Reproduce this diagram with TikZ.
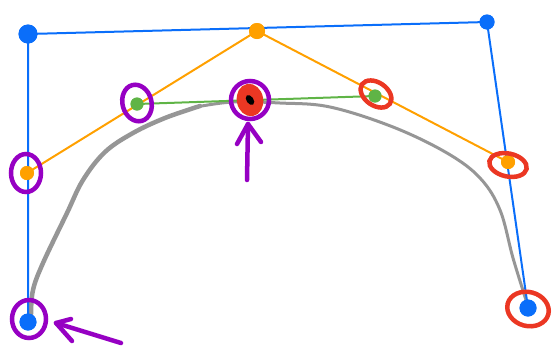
\documentclass[tikz,border=0pt]{standalone}
\usetikzlibrary{shapes.geometric}
\definecolor{cblue}{RGB}{10,110,250}
\definecolor{corange}{RGB}{255,160,0}
\definecolor{cgreen}{RGB}{95,180,70}
\definecolor{cpurple}{RGB}{150,0,195}
\definecolor{cred}{RGB}{235,55,35}
\definecolor{cgray}{RGB}{150,150,150}
\begin{document}
\begin{tikzpicture}[x=1pt,y=-1pt,
  dot/.style={circle,inner sep=0pt,minimum size=#1},
  bdot/.style={dot=17pt,fill=cblue},
  odot/.style={dot=14pt,fill=corange},
  gdot/.style={dot=13pt,fill=cgreen},
  ring/.style={ellipse,draw,inner sep=0pt,line width=4.5pt},
  pring/.style={ring,draw=cpurple},
  rring/.style={ring,draw=cred},
  bline/.style={cblue,line width=2pt},
  oline/.style={corange,line width=2pt},
  gline/.style={cgreen,line width=2pt},
  parrow/.style={cpurple,line width=4.5pt,line cap=round,line join=round}]
\useasboundingbox (0,0) rectangle (556,354);
% gray curve
\draw[cgray,line width=4.5pt,line cap=round] plot[smooth,tension=0.6] coordinates
  {(31,314) (33,290) (43,263) (67,213) (83,180) (105,152) (133,133) (165,118) (200,106)};
\draw[cgray,line width=3pt,line cap=round] plot[smooth,tension=0.6] coordinates
  {(196,107) (233,102) (280,103) (330,107) (393,127) (447,153) (480,178) (500,210) (513,258) (526,300)};
% points
\node[bdot] (p0) at (28,322) {};
\node[bdot,minimum width=19pt,minimum height=16pt] (p1) at (28,34) {};
\node[bdot,minimum width=15pt,minimum height=14pt] (p2) at (487,22) {};
\node[bdot] (p3) at (528,308) {};
\node[odot] (q0) at (27,173) {};
\node[odot,minimum width=16pt,minimum height=12pt] (q1) at (257,31) {};
\node[odot] (q2) at (508,162) {};
\node[gdot] (r0) at (137,104) {};
\node[gdot] (r1) at (375,96) {};
% lines
\draw[bline] (p0.center) -- (p1.center) -- (p2.center) -- (p3.center);
\draw[oline] (q0.center) -- (q1.center) -- (q2.center);
\draw[gline] (r0.center) -- (r1.center);
\node[bdot] at (p0) {};
\node[bdot,minimum width=19pt,minimum height=16pt] at (p1) {};
\node[bdot,minimum width=15pt,minimum height=14pt] at (p2) {};
\node[bdot] at (p3) {};
\node[odot] at (q0) {};
\node[odot,minimum width=16pt,minimum height=12pt] at (q1) {};
\node[odot] at (q2) {};
\node[gdot] at (r0) {};
\node[gdot] at (r1) {};
% black point
\node[rring,minimum width=22pt,minimum height=28pt,rotate=10,fill=cred] (s) at (250,100) {};
\node[ellipse,fill=black,minimum width=7pt,minimum height=11pt,inner sep=0pt,rotate=35] (sb) at (250,100) {};
% rings
\node[pring,minimum width=30pt,minimum height=38pt] (c0) at (26,173) {};
\node[pring,minimum width=29pt,minimum height=37pt,rotate=15] (c1) at (137,103) {};
\node[pring,minimum width=38pt,minimum height=38pt] (c2) at (250,100) {};
\node[pring,minimum width=34pt,minimum height=38pt] (c3) at (29,319) {};
\node[rring,minimum width=34pt,minimum height=23pt,rotate=-35] (d1) at (376,94) {};
\node[rring,minimum width=38pt,minimum height=23pt,rotate=-12] (d2) at (508,165) {};
\node[rring,minimum width=42pt,minimum height=34pt,rotate=-15] (d3) at (528,309) {};
% arrows
\coordinate (a1t) at (247,180);
\coordinate (a1h) at (248,124);
\coordinate (a2t) at (121,343);
\coordinate (a2h) at (56,323);
\draw[parrow] (a1t) -- (a1h);
\draw[parrow] (237,144) -- (a1h) -- (261,142);
\draw[parrow] (a2t) -- (a2h);
\draw[parrow] (72,341) -- (a2h) -- (71,319);
\end{tikzpicture}
\end{document}
